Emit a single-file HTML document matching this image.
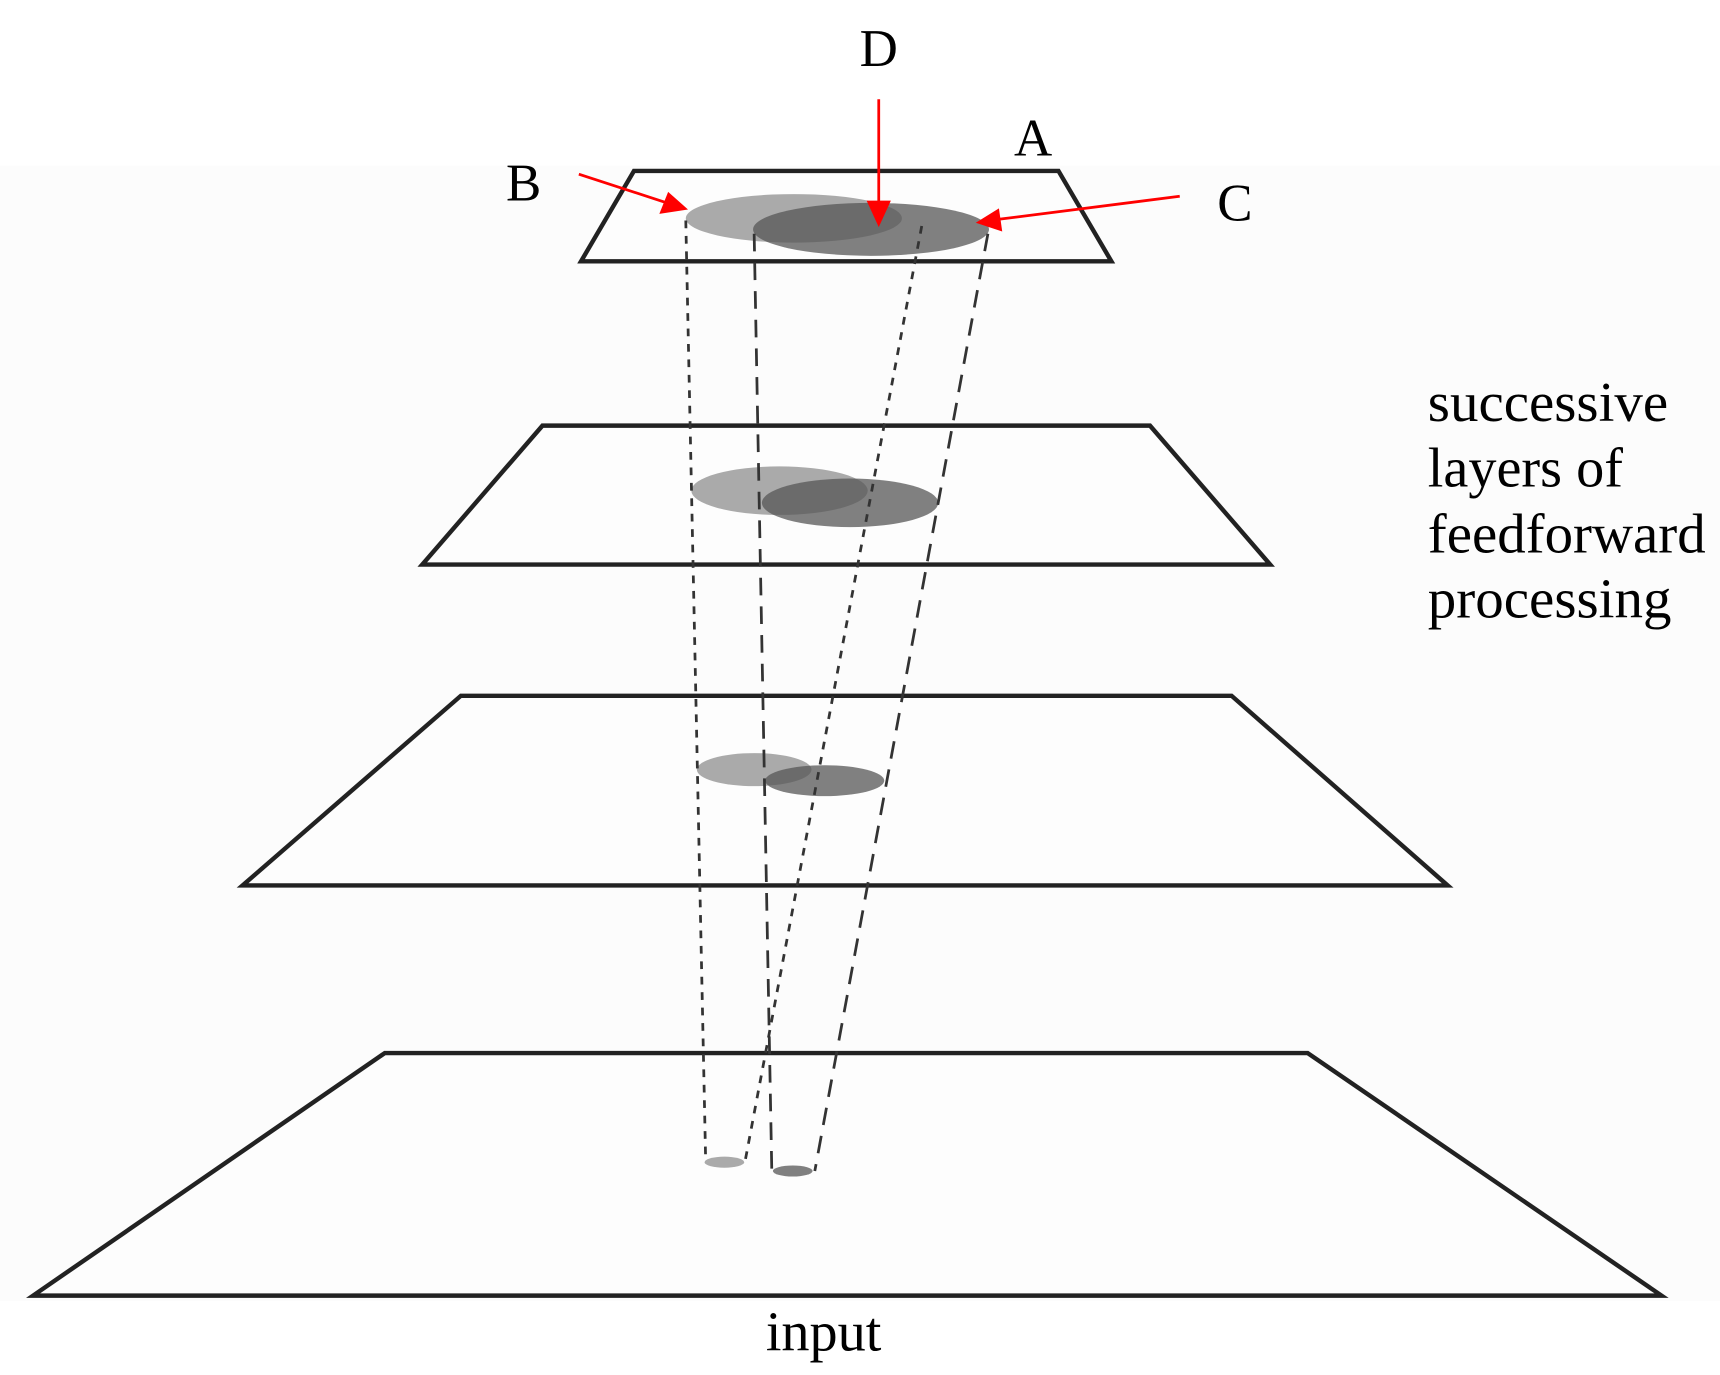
<!DOCTYPE html>
<html><head><style>html,body{margin:0;padding:0;background:#fff}svg{display:block}</style></head>
<body>
<svg width="1720" height="1375" viewBox="0 0 1560 1247" preserveAspectRatio="none" xmlns="http://www.w3.org/2000/svg" font-family="Liberation Serif, serif">
<rect x="0" y="150" width="1560" height="1030" fill="#fcfcfc"/>
<g fill="#fdfdfd" stroke="#222" stroke-width="4" stroke-linejoin="miter">
<polygon points="575,155 960,155 1008,237 527,237"/>
<polygon points="492,386 1043,386 1152,512 383,512"/>
<polygon points="418,631 1117,631 1313,803 220,803"/>
<polygon points="349,955 1186,955 1507,1175 30,1175"/>
</g>
<g fill="#aaaaaa">
<ellipse cx="720" cy="198" rx="98" ry="22"/>
<ellipse cx="707" cy="445" rx="80" ry="22"/>
<ellipse cx="684" cy="698" rx="52" ry="15"/>
<ellipse cx="657" cy="1054" rx="18" ry="5"/>
</g>
<g fill="#555" fill-opacity="0.75">
<ellipse cx="790" cy="208" rx="107" ry="24"/>
<ellipse cx="771" cy="456" rx="80" ry="22"/>
<ellipse cx="748" cy="708" rx="54" ry="14"/>
<ellipse cx="719" cy="1062" rx="18" ry="5"/>
</g>
<g stroke="#333" stroke-width="2.5" fill="none">
<line x1="622" y1="200" x2="640" y2="1052" stroke-dasharray="7,7"/>
<line x1="836" y1="205" x2="676" y2="1052" stroke-dasharray="7,7"/>
<line x1="684" y1="212" x2="700" y2="1062" stroke-dasharray="16,10"/>
<line x1="896" y1="212" x2="739" y2="1062" stroke-dasharray="16,10"/>
</g>
<g stroke="#f00" stroke-width="2.5" fill="#f00">
<line x1="525" y1="158" x2="605" y2="184"/>
<polygon points="624,190 598,194 606,174" stroke="none"/>
<line x1="797" y1="90" x2="797" y2="185"/>
<polygon points="797,206 786,182 808,182" stroke="none"/>
<line x1="1070" y1="178" x2="905" y2="199"/>
<polygon points="885,202 906,189 909,210" stroke="none"/>
</g>
<g fill="#000" font-size="48">
<text x="797" y="60" text-anchor="middle">D</text>
<text x="937" y="141" text-anchor="middle">A</text>
<text x="475" y="182" text-anchor="middle">B</text>
<text x="1120" y="200" text-anchor="middle">C</text>
</g>
<g fill="#000" font-size="51">
<text x="1295" y="382" textLength="218" lengthAdjust="spacingAndGlyphs">successive</text>
<text x="1295" y="441">layers of</text>
<text x="1295" y="501" textLength="252" lengthAdjust="spacingAndGlyphs">feedforward</text>
<text x="1295" y="560" textLength="221" lengthAdjust="spacingAndGlyphs">processing</text>
<text x="747" y="1225" text-anchor="middle">input</text>
</g>
</svg>
</body></html>
